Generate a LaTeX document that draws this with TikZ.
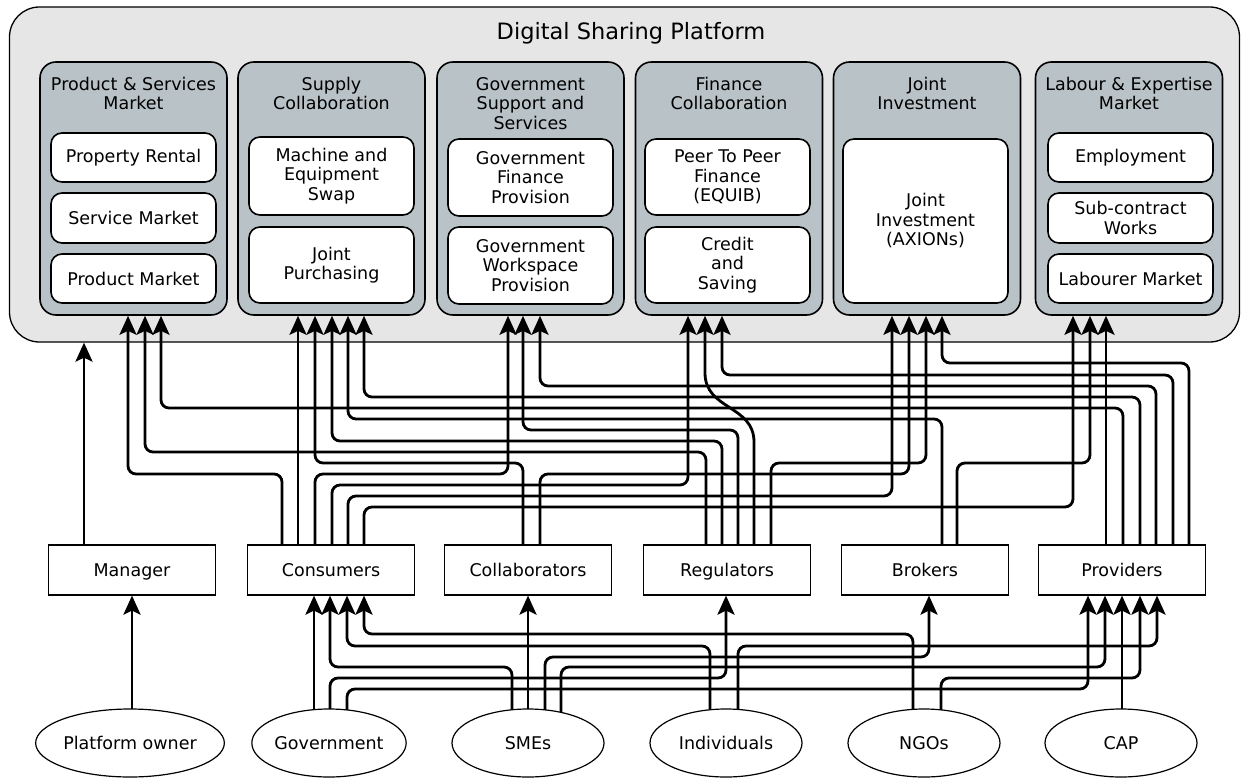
\documentclass[tikz,border=0pt]{standalone}
\usepackage{fontspec}
\setmainfont{DejaVu Sans}
\usetikzlibrary{arrows.meta,backgrounds,shapes.geometric}
\definecolor{outerfill}{RGB}{230,230,230}
\definecolor{groupfill}{RGB}{185,195,199}
\newcommand\uplink[5]{\draw[cn] (#1.north -| #2,0) -- (#2,#3) -- (#4,#3) -- (#5.south -| #4,0);}
\newcommand\straightlink[3]{\draw[cn] (#1.north -| #2,0) -- (#3.south -| #2,0);}
\newcommand\lowlink[5]{\draw[cn] (#1.center -| #2,0) -- (#2,#3) -- (#4,#3) -- (#5.south -| #4,0);}
\newcommand\lowstraight[3]{\draw[cn] (#1.center -| #2,0) -- (#3.south -| #2,0);}
\begin{document}
\begin{tikzpicture}[x=1pt,y=-1pt,
  font=\fontsize{17.5}{19.5}\selectfont,
  outerbox/.style={draw=black, line width=1.3pt, fill=outerfill, rounded corners=30pt, minimum width=1230pt, minimum height=335pt, inner sep=0pt},
  groupbox/.style={draw=black, line width=1.6pt, fill=groupfill, rounded corners=16pt, minimum width=187pt, minimum height=253pt, inner sep=0pt},
  itembox/.style={draw=black, line width=1.6pt, fill=white, rounded corners=11pt, minimum width=165pt, align=center, inner sep=0pt},
  grouptitle/.style={anchor=north, align=center, inner sep=0pt},
  actor/.style={draw=black, line width=1.2pt, fill=white, minimum width=167pt, minimum height=50pt, inner sep=0pt, text height=15pt, text depth=2pt},
  party/.style={ellipse, draw=black, line width=1.2pt, fill=white, minimum width=152pt, minimum height=68pt, inner sep=0pt, text height=15pt, text depth=2pt},
  cn/.style={line width=2.8pt, rounded corners=8pt, -{Stealth[length=19pt,width=17pt,inset=4pt]}},
]
\useasboundingbox (0,0) rectangle (1241,778);

% platform
\node[outerbox] (dsp) at (624.5,174.5) {};
\node[anchor=base, font=\fontsize{22.5}{27}\selectfont, inner sep=0pt] (title) at (631,39.5) {Digital Sharing Platform};

% groups
\node[groupbox] (g1) at (133.5,188.5) {};
\node[groupbox] (g2) at (331.5,188.5) {};
\node[groupbox] (g3) at (530.5,188.5) {};
\node[groupbox] (g4) at (729,188.5) {};
\node[groupbox] (g5) at (927,188.5) {};
\node[groupbox] (g6) at (1129,188.5) {};

\node[grouptitle] (g1t) at (133.5,77) {Product \& Services\\Market};
\node[grouptitle] (g2t) at (331.5,77) {Supply\\Collaboration};
\node[grouptitle] (g3t) at (530.5,77) {Government\\Support and\\Services};
\node[grouptitle] (g4t) at (729,77) {Finance\\Collaboration};
\node[grouptitle] (g5t) at (927,77) {Joint\\Investment};
\node[grouptitle] (g6t) at (1129,77) {Labour \& Expertise\\Market};

% items
\node[itembox, minimum height=49pt] (i11) at (133.5,157.5) {Property Rental};
\node[itembox, minimum height=50pt] (i12) at (133.5,218) {Service Market};
\node[itembox, minimum height=49pt] (i13) at (133.5,278.5) {Product Market};

\node[itembox, minimum height=78pt] (i21) at (331.5,176) {Machine and\\Equipment\\Swap};
\node[itembox, minimum height=76pt] (i22) at (331.5,265) {Joint\\Purchasing};

\node[itembox, minimum height=77pt] (i31) at (530.5,177.5) {Government\\Finance\\Provision};
\node[itembox, minimum height=77pt] (i32) at (530.5,265.5) {Government\\Workspace\\Provision};

\node[itembox, minimum height=76pt] (i41) at (727.5,177) {Peer To Peer\\Finance\\(EQUIB)};
\node[itembox, minimum height=76pt] (i42) at (727.5,265) {Credit\\and\\Saving};

\node[itembox, minimum height=164pt] (i51) at (925.5,221) {Joint\\Investment\\(AXIONs)};

\node[itembox, minimum height=49pt] (i61) at (1130.5,157.5) {Employment};
\node[itembox, minimum height=50pt] (i62) at (1130.5,218) {Sub-contract\\Works};
\node[itembox, minimum height=49pt] (i63) at (1130.5,278.5) {Labourer Market};

% actors
\node[actor] (mgr) at (132,570) {Manager};
\node[actor] (cons) at (331,570) {Consumers};
\node[actor] (col) at (528,570) {Collaborators};
\node[actor] (reg) at (727,570) {Regulators};
\node[actor] (brok) at (925,570) {Brokers};
\node[actor] (prov) at (1122,570) {Providers};

% parties
\node[party] (po) at (130,743) {Platform owner};
\node[party] (gov) at (329,743) {Government};
\node[party] (sme) at (528,743) {SMEs};
\node[party] (ind) at (726,743) {Individuals};
\node[party] (ngo) at (924,743) {NGOs};
\node[party] (cap) at (1121,743) {CAP};

% actors -> platform
\draw[cn] (mgr.north -| 84,0) -- (dsp.south -| 84,0);
\uplink{cons}{282}{474}{128}{g1}
\straightlink{cons}{298}{g2}
\uplink{cons}{315}{474}{508}{g3}
\uplink{cons}{332}{485}{688}{g4}
\uplink{cons}{348}{496}{892}{g5}
\uplink{cons}{364}{507}{1073}{g6}
\uplink{col}{523}{463}{315}{g2}
\uplink{col}{540}{474}{909}{g5}
\uplink{reg}{706}{452}{145}{g1}
\uplink{reg}{722}{441}{332}{g2}
\uplink{reg}{738}{430}{523}{g3}
\draw[cn, sharp corners] (reg.north -| 754,0) -- (754,442) .. controls (754,405) and (705,410) .. (705,373) -- (g4.south -| 705,0);
\uplink{reg}{771}{463}{926}{g5}
\uplink{brok}{942}{419}{348}{g2}
\uplink{brok}{957}{463}{1090}{g6}
\straightlink{prov}{1106}{g6}
\uplink{prov}{1123}{408}{161}{g1}
\uplink{prov}{1140}{397}{364}{g2}
\uplink{prov}{1156}{386}{540}{g3}
\uplink{prov}{1173}{375}{722}{g4}
\uplink{prov}{1189}{363}{942}{g5}

% parties -> actors
\begin{scope}[on background layer]
\lowstraight{po}{132}{mgr}
\lowstraight{gov}{314}{cons}
\lowlink{gov}{330}{678}{726}{reg}
\lowlink{gov}{347}{689}{1088}{prov}
\lowlink{sme}{512}{667}{330}{cons}
\lowstraight{sme}{528}{col}
\lowlink{sme}{545}{657}{929}{brok}
\lowlink{sme}{561}{667}{1105}{prov}
\lowlink{ind}{710}{646}{347}{cons}
\lowlink{ind}{738}{646}{1157}{prov}
\lowlink{ngo}{913}{634}{364}{cons}
\lowlink{ngo}{941}{678}{1140}{prov}
\lowstraight{cap}{1122}{prov}
\end{scope}
\end{tikzpicture}
\end{document}
